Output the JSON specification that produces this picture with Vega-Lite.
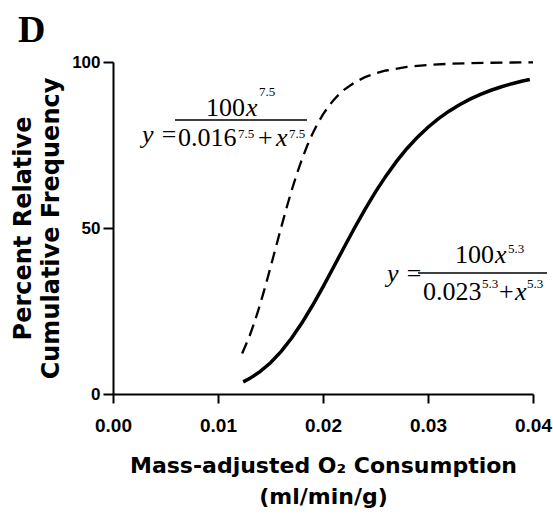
{
  "$schema": "https://vega.github.io/schema/vega-lite/v6.json",
  "width": 420,
  "height": 332,
  "autosize": {"type": "none"},
  "padding": {"left": 113, "top": 62, "right": 20, "bottom": 130},
  "background": "white",
  "config": {
    "view": {"stroke": null},
    "axis": {"grid": false, "domainColor": "black", "domainWidth": 2, "tickColor": "black", "tickWidth": 2, "labelColor": "black", "titleColor": "black", "labelFlush": false, "labelOverlap": false}
  },
  "datasets": {
    "curves": [
      {"curve": "dashed", "x": 0.0123, "y": 12.2},
      {"curve": "dashed", "x": 0.013, "y": 17.4},
      {"curve": "dashed", "x": 0.0135, "y": 21.86},
      {"curve": "dashed", "x": 0.014, "y": 26.87},
      {"curve": "dashed", "x": 0.0145, "y": 32.34},
      {"curve": "dashed", "x": 0.015, "y": 38.13},
      {"curve": "dashed", "x": 0.0155, "y": 44.08},
      {"curve": "dashed", "x": 0.016, "y": 50},
      {"curve": "dashed", "x": 0.0165, "y": 55.74},
      {"curve": "dashed", "x": 0.017, "y": 61.18},
      {"curve": "dashed", "x": 0.0175, "y": 66.2},
      {"curve": "dashed", "x": 0.018, "y": 70.75},
      {"curve": "dashed", "x": 0.0185, "y": 74.83},
      {"curve": "dashed", "x": 0.019, "y": 78.4},
      {"curve": "dashed", "x": 0.0195, "y": 81.51},
      {"curve": "dashed", "x": 0.02, "y": 84.2},
      {"curve": "dashed", "x": 0.0205, "y": 86.51},
      {"curve": "dashed", "x": 0.021, "y": 88.49},
      {"curve": "dashed", "x": 0.0215, "y": 90.17},
      {"curve": "dashed", "x": 0.022, "y": 91.59},
      {"curve": "dashed", "x": 0.023, "y": 93.83},
      {"curve": "dashed", "x": 0.024, "y": 95.44},
      {"curve": "dashed", "x": 0.025, "y": 96.6},
      {"curve": "dashed", "x": 0.026, "y": 97.44},
      {"curve": "dashed", "x": 0.028, "y": 98.52},
      {"curve": "dashed", "x": 0.03, "y": 99.11},
      {"curve": "dashed", "x": 0.032, "y": 99.45},
      {"curve": "dashed", "x": 0.034, "y": 99.65},
      {"curve": "dashed", "x": 0.036, "y": 99.77},
      {"curve": "dashed", "x": 0.038, "y": 99.85},
      {"curve": "dashed", "x": 0.04, "y": 99.9},
      {"curve": "solid", "x": 0.0124, "y": 3.65},
      {"curve": "solid", "x": 0.013, "y": 4.64},
      {"curve": "solid", "x": 0.014, "y": 6.72},
      {"curve": "solid", "x": 0.015, "y": 9.4},
      {"curve": "solid", "x": 0.016, "y": 12.75},
      {"curve": "solid", "x": 0.017, "y": 16.77},
      {"curve": "solid", "x": 0.018, "y": 21.43},
      {"curve": "solid", "x": 0.019, "y": 26.65},
      {"curve": "solid", "x": 0.02, "y": 32.29},
      {"curve": "solid", "x": 0.021, "y": 38.18},
      {"curve": "solid", "x": 0.022, "y": 44.14},
      {"curve": "solid", "x": 0.023, "y": 50},
      {"curve": "solid", "x": 0.024, "y": 55.62},
      {"curve": "solid", "x": 0.025, "y": 60.87},
      {"curve": "solid", "x": 0.026, "y": 65.7},
      {"curve": "solid", "x": 0.027, "y": 70.05},
      {"curve": "solid", "x": 0.028, "y": 73.94},
      {"curve": "solid", "x": 0.029, "y": 77.36},
      {"curve": "solid", "x": 0.03, "y": 80.35},
      {"curve": "solid", "x": 0.031, "y": 82.95},
      {"curve": "solid", "x": 0.032, "y": 85.2},
      {"curve": "solid", "x": 0.033, "y": 87.14},
      {"curve": "solid", "x": 0.034, "y": 88.81},
      {"curve": "solid", "x": 0.035, "y": 90.25},
      {"curve": "solid", "x": 0.036, "y": 91.49},
      {"curve": "solid", "x": 0.037, "y": 92.55},
      {"curve": "solid", "x": 0.038, "y": 93.47},
      {"curve": "solid", "x": 0.039, "y": 94.26},
      {"curve": "solid", "x": 0.0397, "y": 94.75}
    ],
    "eqRoman": [
      {"x": 0.008857, "y": 83.73, "t": "100"},
      {"x": 0.00619, "y": 74.7, "t": "0.016"},
      {"x": 0.01381, "y": 74.7, "t": "+"},
      {"x": 0.032571, "y": 39.46, "t": "100"},
      {"x": 0.029524, "y": 28.31, "t": "0.023"},
      {"x": 0.036762, "y": 28.31, "t": "+"}
    ],
    "eqItalic": [
      {"x": 0.002762, "y": 75.6, "t": "y ="},
      {"x": 0.012667, "y": 83.73, "t": "x"},
      {"x": 0.015524, "y": 74.7, "t": "x"},
      {"x": 0.026095, "y": 33.73, "t": "y ="},
      {"x": 0.036381, "y": 39.46, "t": "x"},
      {"x": 0.038286, "y": 28.31, "t": "x"}
    ],
    "eqSup": [
      {"x": 0.013905, "y": 89.76, "t": "7.5"},
      {"x": 0.011905, "y": 77.1, "t": "7.5"},
      {"x": 0.016762, "y": 77.1, "t": "7.5"},
      {"x": 0.037619, "y": 42.47, "t": "5.3"},
      {"x": 0.035143, "y": 31.93, "t": "5.3"},
      {"x": 0.039429, "y": 31.93, "t": "5.3"}
    ],
    "bars": [
      {"x": 0.005905, "x2": 0.018476, "y": 82.53},
      {"x": 0.029048, "x2": 0.041333, "y": 36.45}
    ],
    "panel": [
      {"x": -0.009048, "y": 106.0, "t": "D"}
    ]
  },
  "layer": [
    {
      "data": {"name": "curves"},
      "transform": [{"filter": "datum.curve === 'dashed'"}],
      "mark": {"type": "line", "color": "black", "strokeWidth": 2.3, "strokeDash": [12, 7]},
      "encoding": {
        "x": {
          "field": "x", "type": "quantitative",
          "scale": {"domain": [0, 0.04], "nice": false, "zero": false},
          "axis": {
            "values": [0, 0.01, 0.02, 0.03, 0.04], "format": ".2f",
            "labelFont": "Liberation Sans", "labelFontWeight": "bold", "labelFontSize": 19,
            "tickSize": 9, "labelPadding": 13,
            "title": ["Mass-adjusted O₂ Consumption", "(ml/min/g)"],
            "titleFont": "DejaVu Sans", "titleFontWeight": "bold", "titleFontSize": 22,
            "titleLineHeight": 31, "titlePadding": 20
          }
        },
        "y": {
          "field": "y", "type": "quantitative",
          "scale": {"domain": [0, 100], "nice": false},
          "axis": {
            "values": [0, 50, 100],
            "labelFont": "Liberation Sans", "labelFontWeight": "bold", "labelFontSize": 17,
            "tickSize": 10, "labelPadding": 3,
            "title": ["Percent Relative", "Cumulative Frequency"],
            "titleFont": "DejaVu Sans", "titleFontWeight": "bold", "titleFontSize": 24,
            "titleLineHeight": 28, "titlePadding": 8
          }
        }
      }
    },
    {
      "data": {"name": "curves"},
      "transform": [{"filter": "datum.curve === 'solid'"}],
      "mark": {"type": "line", "color": "black", "strokeWidth": 3.5},
      "encoding": {
        "x": {"field": "x", "type": "quantitative"},
        "y": {"field": "y", "type": "quantitative"}
      }
    },
    {
      "data": {"name": "bars"},
      "mark": {"type": "rule", "color": "black", "strokeWidth": 1.5},
      "encoding": {
        "x": {"field": "x", "type": "quantitative"},
        "x2": {"field": "x2"},
        "y": {"field": "y", "type": "quantitative"}
      }
    },
    {
      "data": {"name": "eqRoman"},
      "mark": {"type": "text", "font": "Liberation Serif", "fontSize": 26, "align": "left", "baseline": "alphabetic", "color": "black"},
      "encoding": {
        "x": {"field": "x", "type": "quantitative"},
        "y": {"field": "y", "type": "quantitative"},
        "text": {"field": "t"}
      }
    },
    {
      "data": {"name": "eqItalic"},
      "mark": {"type": "text", "font": "Liberation Serif", "fontStyle": "italic", "fontSize": 26, "align": "left", "baseline": "alphabetic", "color": "black"},
      "encoding": {
        "x": {"field": "x", "type": "quantitative"},
        "y": {"field": "y", "type": "quantitative"},
        "text": {"field": "t"}
      }
    },
    {
      "data": {"name": "eqSup"},
      "mark": {"type": "text", "font": "Liberation Serif", "fontSize": 13, "align": "left", "baseline": "alphabetic", "color": "black"},
      "encoding": {
        "x": {"field": "x", "type": "quantitative"},
        "y": {"field": "y", "type": "quantitative"},
        "text": {"field": "t"}
      }
    },
    {
      "data": {"name": "panel"},
      "mark": {"type": "text", "font": "Liberation Serif", "fontWeight": "bold", "fontSize": 38, "align": "left", "baseline": "alphabetic", "color": "black"},
      "encoding": {
        "x": {"field": "x", "type": "quantitative"},
        "y": {"field": "y", "type": "quantitative"},
        "text": {"field": "t"}
      }
    }
  ]
}
